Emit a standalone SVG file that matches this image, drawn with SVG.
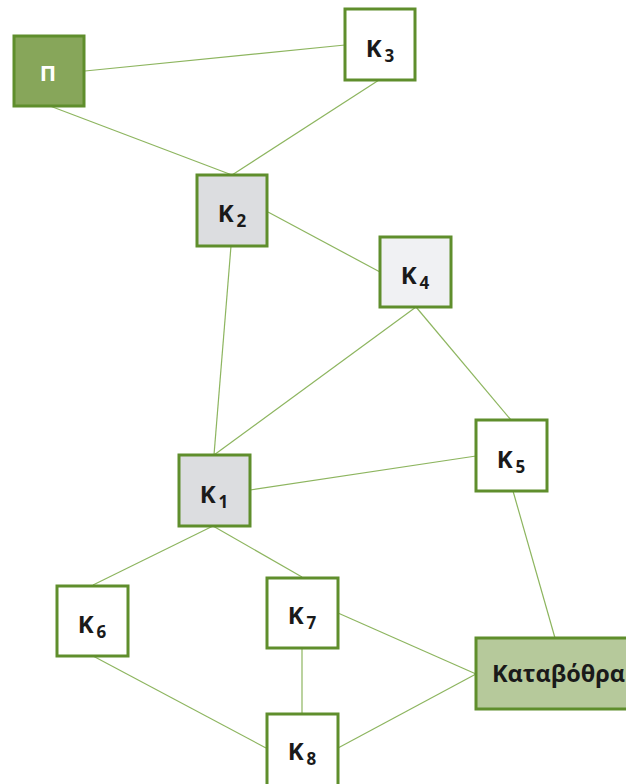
<svg xmlns="http://www.w3.org/2000/svg" width="626" height="784" viewBox="0 0 626 784">
  <style>
    .box { stroke: #5f8e2c; stroke-width: 3; }
    .plain { fill: #ffffff; }
    .grey { fill: #dcdde0; }
    .pale { fill: #f0f1f3; }
    .src { fill: #87a65a; }
    .sink { fill: #b6c99b; }
    .edge { stroke: #8db55f; stroke-width: 1.2; fill: none; }
    text { font-family: "Open Sans", "Liberation Sans", sans-serif; font-weight: bold; fill: #1a1a1a; }
    .k { font-size: 24px; }
    .sub { font-size: 17px; }
  </style>
  <rect width="626" height="784" fill="#ffffff"/>

  <g id="connectors">
    <line class="edge" x1="85" y1="71" x2="345" y2="45"/>
    <line class="edge" x1="50" y1="106" x2="232" y2="175"/>
    <line class="edge" x1="379" y1="80" x2="232" y2="175"/>
    <line class="edge" x1="268" y1="212" x2="380" y2="272"/>
    <line class="edge" x1="231" y1="246" x2="214" y2="455"/>
    <line class="edge" x1="416" y1="307" x2="214" y2="455"/>
    <line class="edge" x1="416" y1="307" x2="511" y2="420"/>
    <line class="edge" x1="250" y1="490" x2="476" y2="456"/>
    <line class="edge" x1="513" y1="491" x2="555" y2="638"/>
    <line class="edge" x1="213" y1="526" x2="93" y2="585"/>
    <line class="edge" x1="213" y1="526" x2="302" y2="577"/>
    <line class="edge" x1="338" y1="613" x2="476" y2="674"/>
    <line class="edge" x1="302" y1="648" x2="302" y2="713"/>
    <line class="edge" x1="93" y1="656" x2="266" y2="748"/>
    <line class="edge" x1="338" y1="748" x2="476" y2="674"/>
  </g>

  <g id="P">
    <rect class="box src" x="14" y="36" width="70" height="70"/>
    <text x="48" y="81" text-anchor="middle" style="fill:#ffffff;font-size:22px">Π</text>
  </g>

  <g id="K3">
    <rect class="box plain" x="345" y="9" width="70" height="71"/>
    <text x="380" y="57" text-anchor="middle"><tspan class="k">K</tspan><tspan class="sub" dx="3" dy="5">3</tspan></text>
  </g>

  <g id="K2">
    <rect class="box grey" x="197" y="175" width="70" height="71"/>
    <text x="232" y="222" text-anchor="middle"><tspan class="k">K</tspan><tspan class="sub" dx="3" dy="5">2</tspan></text>
  </g>

  <g id="K4">
    <rect class="box pale" x="380" y="237" width="71" height="70"/>
    <text x="415" y="284" text-anchor="middle"><tspan class="k">K</tspan><tspan class="sub" dx="3" dy="5">4</tspan></text>
  </g>

  <g id="K1">
    <rect class="box grey" x="179" y="455" width="71" height="71"/>
    <text x="214" y="503" text-anchor="middle"><tspan class="k">K</tspan><tspan class="sub" dx="3" dy="5">1</tspan></text>
  </g>

  <g id="K5">
    <rect class="box plain" x="476" y="420" width="71" height="71"/>
    <text x="511" y="468" text-anchor="middle"><tspan class="k">K</tspan><tspan class="sub" dx="3" dy="5">5</tspan></text>
  </g>

  <g id="K6">
    <rect class="box plain" x="57" y="586" width="71" height="70"/>
    <text x="92" y="633" text-anchor="middle"><tspan class="k">K</tspan><tspan class="sub" dx="3" dy="5">6</tspan></text>
  </g>

  <g id="K7">
    <rect class="box plain" x="267" y="578" width="71" height="70"/>
    <text x="302" y="624" text-anchor="middle"><tspan class="k">K</tspan><tspan class="sub" dx="3" dy="5">7</tspan></text>
  </g>

  <g id="K8">
    <rect class="box plain" x="267" y="714" width="71" height="72"/>
    <text x="302" y="760" text-anchor="middle"><tspan class="k">K</tspan><tspan class="sub" dx="3" dy="5">8</tspan></text>
  </g>

  <g id="sink">
    <rect class="box sink" x="476" y="638" width="170" height="71"/>
    <text x="492" y="682" style="font-size:23px" textLength="133" lengthAdjust="spacingAndGlyphs">Καταβόθρα</text>
  </g>
</svg>
